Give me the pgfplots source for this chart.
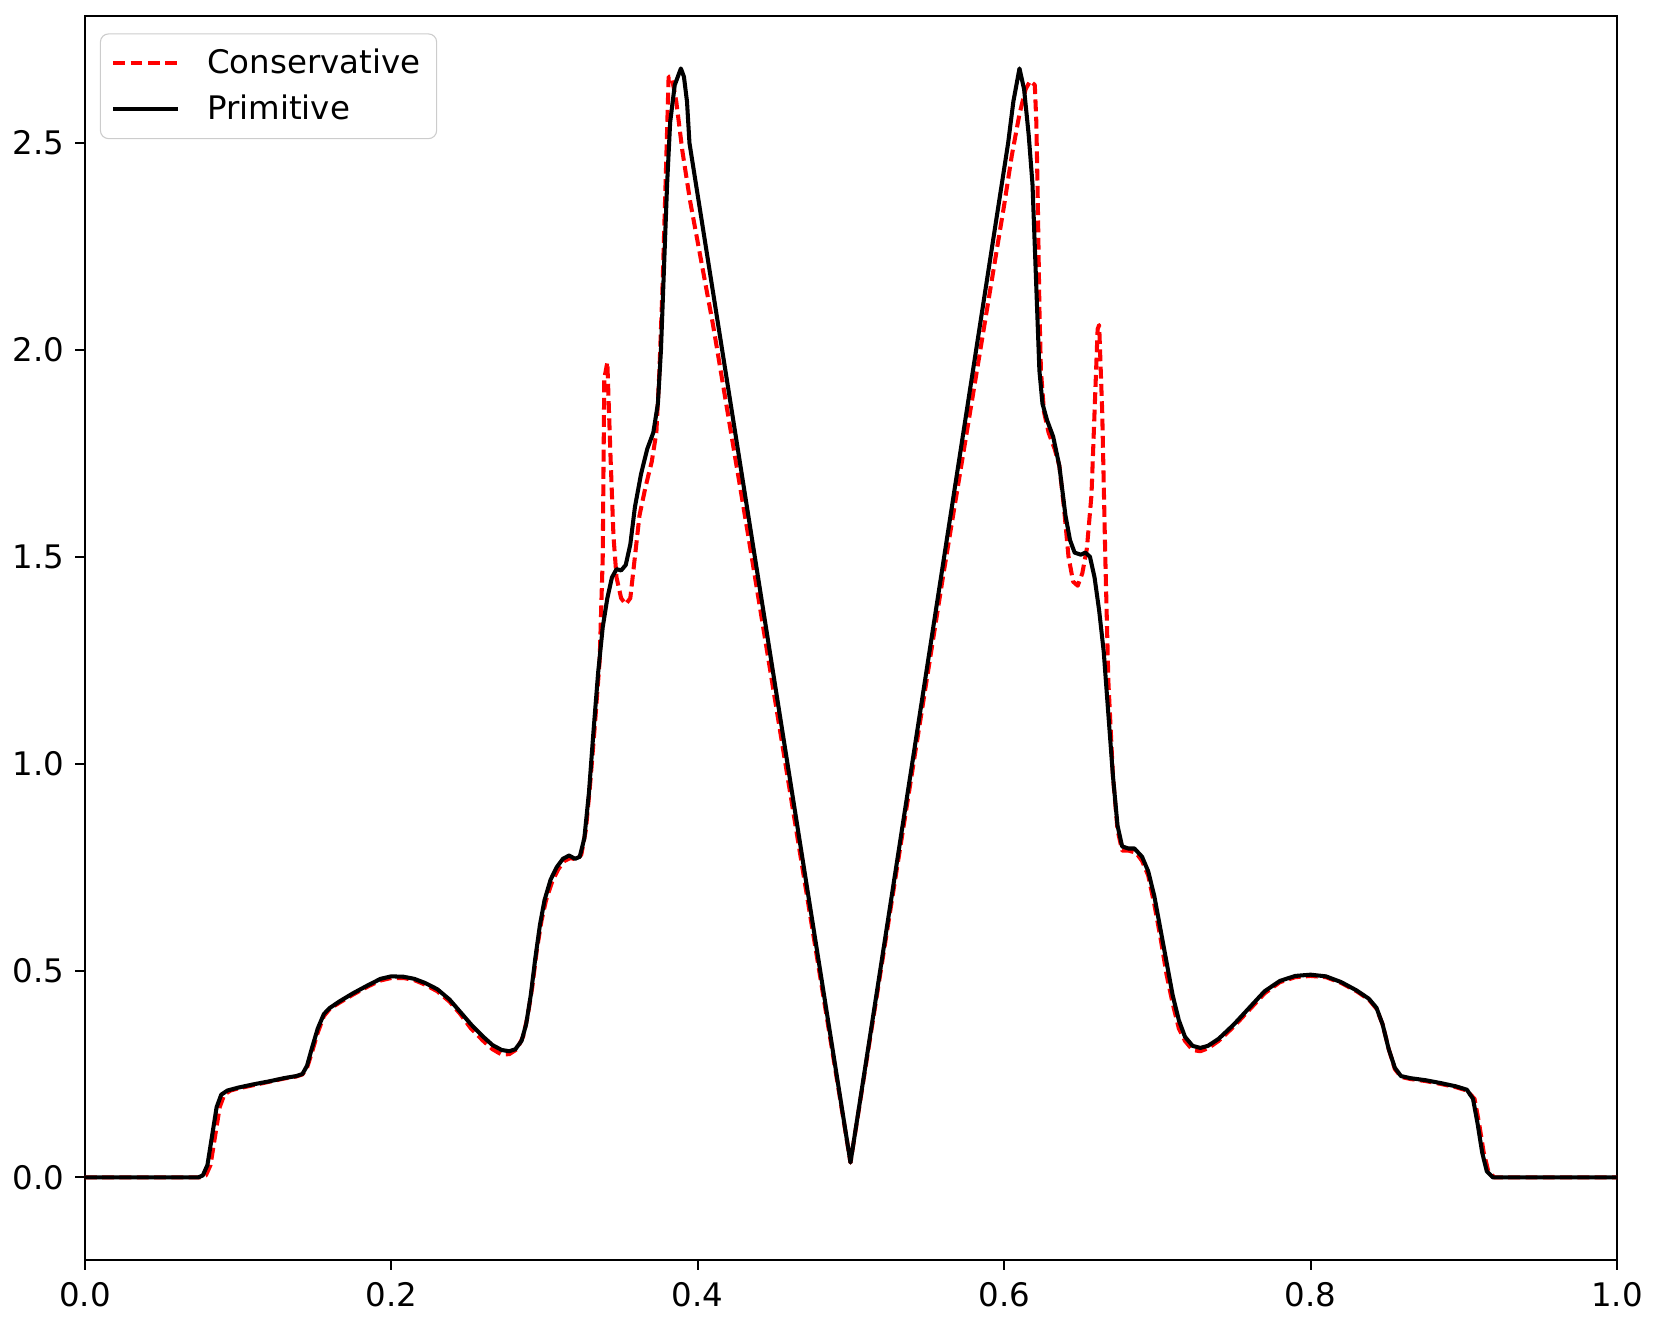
\documentclass[border=0pt]{standalone}
\usepackage{pgfplots}
\pgfplotsset{compat=1.18}
\usepackage{fontspec}
\setmainfont{DejaVu Sans}
\begin{document}
\begin{tikzpicture}
\begin{axis}[name=ax,
  scale only axis, width=566.8pt, height=460.3pt,
  xmin=0, xmax=1, ymin=-0.2, ymax=2.807,
  xtick={0,0.2,0.4,0.6,0.8,1.0},
  ytick={0,0.5,1.0,1.5,2.0,2.5},
  tick pos=left, tick align=outside,
  major tick length=3.6pt,
  every tick/.style={black, line width=0.75pt},
  axis line style={line width=0.75pt},
  tick label style={font=\fontsize{12}{14}\selectfont},
  xticklabel style={yshift=-1pt},
  yticklabel style={xshift=-0.5pt},
  /pgf/number format/.cd, fixed, fixed zerofill, precision=1, assume math mode=true,
  /pgfplots/.cd,
  legend style={at={(rel axis cs:0.0098,0.986)}, anchor=north west, draw=black!20, rounded corners=3pt, fill=white, font=\fontsize{12}{14}\selectfont, inner xsep=4pt, inner ysep=3.5pt, row sep=2.5pt},
  legend cell align=left,
  legend image code/.code={\draw[#1] (0pt,0pt) -- (24pt,0pt);},
]
\addplot[red, line width=1.5pt, line join=round, dash pattern=on 4.4pt off 2pt] coordinates {
(0,0) (0.076,0) (0.079,0.005) (0.082,0.03) (0.085,0.10) (0.088,0.17) (0.091,0.20) (0.095,0.21)
(0.10,0.215) (0.11,0.223) (0.12,0.231) (0.13,0.239) (0.138,0.244) (0.142,0.249) (0.145,0.265)
(0.148,0.30) (0.152,0.35) (0.156,0.39) (0.160,0.408) (0.166,0.422) (0.175,0.442) (0.185,0.462)
(0.193,0.476) (0.200,0.482) (0.208,0.482) (0.215,0.477) (0.222,0.466) (0.230,0.45) (0.238,0.425)
(0.245,0.395) (0.252,0.36) (0.260,0.33) (0.266,0.31) (0.272,0.297) (0.277,0.298) (0.282,0.31)
(0.286,0.34) (0.289,0.39) (0.292,0.46) (0.295,0.55) (0.298,0.62) (0.301,0.67) (0.305,0.715)
(0.309,0.745) (0.313,0.765) (0.317,0.772) (0.321,0.768) (0.324,0.78) (0.327,0.84) (0.330,0.96)
(0.333,1.10) (0.336,1.25) (0.338,1.50) (0.339,1.93) (0.341,1.97) (0.343,1.75) (0.345,1.55)
(0.347,1.45) (0.350,1.40) (0.353,1.385) (0.356,1.40) (0.359,1.50) (0.362,1.60) (0.366,1.67)
(0.370,1.73) (0.373,1.80) (0.375,1.95) (0.377,2.15) (0.379,2.40) (0.381,2.66) (0.383,2.66)
(0.386,2.60) (0.390,2.48) (0.395,2.36) (0.410,2.06) (0.433,1.55) (0.4997,0.036)
(0.56,1.45) (0.58,1.90) (0.60,2.35) (0.605,2.47) (0.610,2.57) (0.614,2.63) (0.617,2.65)
(0.620,2.64) (0.621,2.55) (0.622,2.35) (0.623,2.10) (0.624,1.95) (0.626,1.85) (0.629,1.80)
(0.633,1.76) (0.636,1.72) (0.639,1.62) (0.642,1.50) (0.645,1.44) (0.648,1.43) (0.651,1.46)
(0.654,1.52) (0.657,1.65) (0.659,1.85) (0.661,2.05) (0.662,2.06) (0.664,1.85) (0.666,1.50)
(0.668,1.20) (0.671,0.97) (0.674,0.84) (0.677,0.79) (0.681,0.79) (0.686,0.785) (0.690,0.765)
(0.694,0.73) (0.698,0.66) (0.702,0.58) (0.706,0.49) (0.710,0.42) (0.714,0.36) (0.718,0.33)
(0.723,0.308) (0.728,0.305) (0.733,0.312) (0.740,0.33) (0.750,0.365) (0.760,0.405) (0.770,0.445)
(0.780,0.472) (0.790,0.484) (0.800,0.487) (0.810,0.484) (0.820,0.47) (0.830,0.45) (0.838,0.43)
(0.843,0.408) (0.847,0.37) (0.851,0.31) (0.855,0.262) (0.859,0.243) (0.865,0.238) (0.875,0.233)
(0.885,0.226) (0.895,0.218) (0.902,0.21) (0.907,0.19) (0.910,0.13) (0.913,0.06) (0.916,0.015)
(0.920,0) (1,0)
};
\addlegendentry{\hspace{8pt}Conservative}
\addplot[black, line width=1.5pt, line join=round] coordinates {
(0,0) (0.074,0) (0.077,0.005) (0.080,0.03) (0.083,0.10) (0.086,0.17) (0.089,0.20) (0.093,0.21)
(0.10,0.217) (0.11,0.225) (0.12,0.232) (0.13,0.24) (0.138,0.245) (0.142,0.25) (0.145,0.27)
(0.148,0.31) (0.152,0.36) (0.156,0.395) (0.160,0.41) (0.166,0.425) (0.175,0.445) (0.185,0.465)
(0.193,0.48) (0.200,0.486) (0.208,0.485) (0.215,0.48) (0.222,0.47) (0.230,0.455) (0.238,0.43)
(0.245,0.40) (0.252,0.37) (0.260,0.34) (0.266,0.32) (0.272,0.308) (0.277,0.305) (0.281,0.31)
(0.285,0.33) (0.288,0.37) (0.291,0.44) (0.294,0.53) (0.297,0.61) (0.300,0.67) (0.304,0.72)
(0.308,0.75) (0.312,0.77) (0.316,0.778) (0.320,0.77) (0.323,0.775) (0.326,0.82) (0.329,0.93)
(0.332,1.08) (0.335,1.22) (0.338,1.33) (0.341,1.40) (0.344,1.45) (0.347,1.47) (0.350,1.467)
(0.353,1.48) (0.356,1.53) (0.359,1.62) (0.363,1.70) (0.367,1.76) (0.371,1.80) (0.374,1.87)
(0.376,2.00) (0.378,2.20) (0.380,2.40) (0.382,2.55) (0.385,2.64) (0.389,2.68) (0.391,2.66)
(0.393,2.60) (0.3946,2.50) (0.4997,0.036)
(0.6026,2.50) (0.606,2.60) (0.610,2.68) (0.613,2.63) (0.616,2.52) (0.6185,2.40) (0.621,2.15)
(0.623,1.95) (0.625,1.87) (0.628,1.83) (0.632,1.79) (0.636,1.72) (0.640,1.60) (0.643,1.54)
(0.646,1.51) (0.650,1.505) (0.653,1.51) (0.656,1.50) (0.659,1.45) (0.662,1.37) (0.665,1.27)
(0.668,1.12) (0.671,0.97) (0.674,0.85) (0.677,0.80) (0.681,0.795) (0.685,0.795) (0.690,0.775)
(0.694,0.74) (0.698,0.68) (0.702,0.60) (0.706,0.52) (0.710,0.44) (0.714,0.38) (0.718,0.34)
(0.723,0.318) (0.728,0.313) (0.733,0.318) (0.740,0.335) (0.750,0.37) (0.760,0.41) (0.770,0.45)
(0.780,0.475) (0.790,0.487) (0.800,0.49) (0.810,0.486) (0.820,0.472) (0.830,0.452) (0.838,0.432)
(0.843,0.41) (0.847,0.37) (0.851,0.31) (0.855,0.265) (0.859,0.245) (0.865,0.24) (0.875,0.235)
(0.885,0.228) (0.895,0.22) (0.902,0.212) (0.906,0.19) (0.909,0.13) (0.912,0.06) (0.915,0.015)
(0.919,0) (1,0)
};
\addlegendentry{\hspace{8pt}Primitive}
\end{axis}
\path (ax.south west) ++(-31.4pt,-24pt) coordinate (bbA);
\path (ax.north east) ++(15.9pt,5.9pt) coordinate (bbB);
\path (bbA) rectangle (bbB);
\end{tikzpicture}
\end{document}
